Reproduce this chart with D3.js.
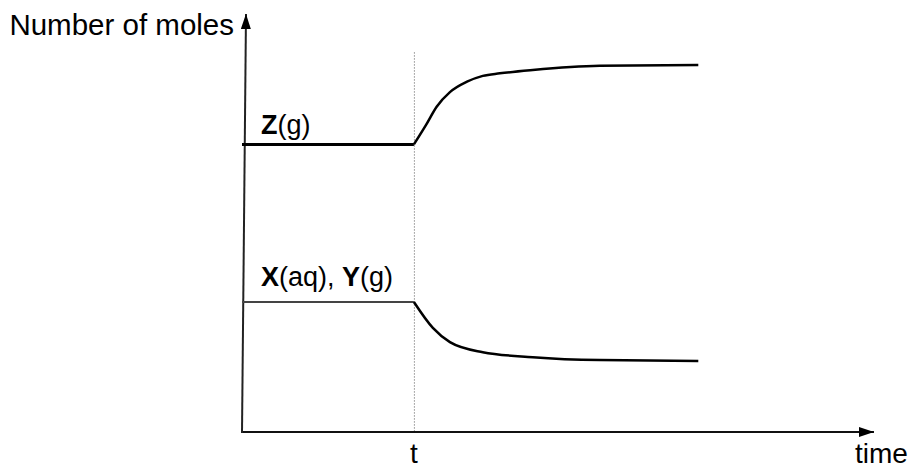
<!DOCTYPE html>
<html>
<head>
<meta charset="utf-8">
<script src="https://cdn.jsdelivr.net/npm/d3@7"></script>
<style>
  body { margin: 0; background: #fff; }
  text { font-family: "Liberation Sans", Arial, sans-serif; fill: #000; }
</style>
</head>
<body>
<div class="chart"></div>
<script>
// time axis runs 0..100 (arbitrary units), moles 0..100
var tChange = 27.2;

// Z(g): flat before t, then rises
var zBefore = [[0, 68.8], [27.2, 68.8]];
var zAfter = [[27.2, 68.8], [29.1, 73.4], [30.8, 77.8], [32.9, 81.3], [35.6, 83.8],
              [38.1, 85.2], [40.8, 85.8], [46.0, 86.6], [56.6, 87.6], [72.2, 87.8]];

// X(aq), Y(g): flat before t, then falls
var xyBefore = [[0, 31.1], [27.2, 31.1]];
var xyAfter = [[27.2, 31.1], [30.2, 24.9], [32.9, 21.5], [38.1, 19.1], [46.0, 17.9],
               [56.6, 17.2], [72.2, 17.0]];

var svgWidth = 912, svgHeight = 470;

var svg = d3.select(".chart")
  .append("svg")
  .attr("width", svgWidth)
  .attr("height", svgHeight);

var xScale = d3.scaleLinear().domain([0, 100]).range([242, 874]);
var yScale = d3.scaleLinear().domain([0, 100]).range([432, 14]);

var line = d3.line()
  .x(d => xScale(d[0]))
  .y(d => yScale(d[1]));

var curve = d3.line()
  .x(d => xScale(d[0]))
  .y(d => yScale(d[1]))
  .curve(d3.curveMonotoneX);

// dotted line at t
svg.append("line")
  .attr("x1", xScale(tChange) + 0.5).attr("x2", xScale(tChange) + 0.5)
  .attr("y1", yScale(90.8)).attr("y2", yScale(0))
  .attr("stroke", "#555")
  .attr("stroke-width", 1)
  .attr("stroke-dasharray", "1,2");

// axes (hand drawn with arrows)
var defs = svg.append("defs");
defs.append("marker")
  .attr("id", "arrow")
  .attr("viewBox", "0 0 15 10")
  .attr("refX", 15).attr("refY", 5)
  .attr("markerWidth", 15).attr("markerHeight", 10)
  .attr("markerUnits", "userSpaceOnUse")
  .attr("orient", "auto")
  .append("path")
  .attr("d", "M0,0L15,5L0,10Z")
  .attr("fill", "#000");

// x axis
svg.append("line")
  .attr("x1", xScale(0)).attr("x2", xScale(100))
  .attr("y1", yScale(0)).attr("y2", yScale(0))
  .attr("stroke", "#111")
  .attr("stroke-width", 2)
  .attr("marker-end", "url(#arrow)");

// y axis (slightly leaning in the original)
svg.append("line")
  .attr("x1", xScale(0)).attr("x2", xScale(0) + 4)
  .attr("y1", yScale(0) + 1).attr("y2", yScale(100))
  .attr("stroke", "#222")
  .attr("stroke-width", 2)
  .attr("marker-end", "url(#arrow)");

// series
svg.append("path")
  .datum(zBefore)
  .attr("d", line)
  .attr("fill", "none")
  .attr("stroke", "#000")
  .attr("stroke-width", 3);

svg.append("path")
  .datum(zAfter)
  .attr("d", curve)
  .attr("fill", "none")
  .attr("stroke", "#000")
  .attr("stroke-width", 2.5);

svg.append("path")
  .datum(xyBefore)
  .attr("d", line)
  .attr("fill", "none")
  .attr("stroke", "#444")
  .attr("stroke-width", 2);

svg.append("path")
  .datum(xyAfter)
  .attr("d", curve)
  .attr("fill", "none")
  .attr("stroke", "#000")
  .attr("stroke-width", 2.5);

// labels
svg.append("text")
  .attr("x", xScale(0) - 8)
  .attr("y", 35)
  .attr("text-anchor", "end")
  .style("font-size", "29.5px")
  .text("Number of moles");

var zLabel = svg.append("text")
  .attr("x", 261)
  .attr("y", yScale(68.8) - 10)
  .style("font-size", "27px");
zLabel.append("tspan").style("font-weight", "bold").text("Z");
zLabel.append("tspan").text("(g)");

var xyLabel = svg.append("text")
  .attr("x", 261)
  .attr("y", yScale(31.1) - 16)
  .style("font-size", "27px");
xyLabel.append("tspan").style("font-weight", "bold").text("X");
xyLabel.append("tspan").text("(aq), ");
xyLabel.append("tspan").style("font-weight", "bold").text("Y");
xyLabel.append("tspan").text("(g)");

svg.append("text")
  .attr("x", xScale(tChange))
  .attr("y", 463)
  .attr("text-anchor", "middle")
  .style("font-size", "28px")
  .text("t");

svg.append("text")
  .attr("x", 855)
  .attr("y", 463)
  .style("font-size", "28px")
  .text("time");
</script>
</body>
</html>
